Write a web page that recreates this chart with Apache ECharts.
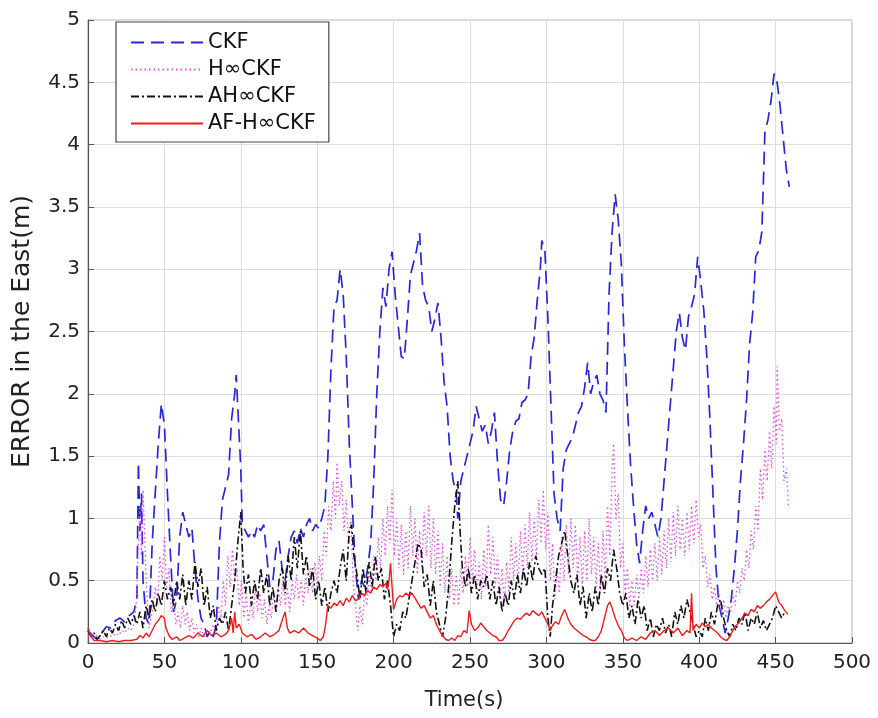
<!DOCTYPE html>
<html>
<head>
<meta charset="utf-8">
<script src="https://cdn.jsdelivr.net/npm/echarts@6/dist/echarts.min.js"></script>
<style>html,body{margin:0;padding:0;background:#fff;}#c{width:878px;height:718px;}</style>
</head>
<body>
<div id="c"></div>
<script>
// ---- data ----
const seriesNames = ['CKF', 'H\u221ECKF', 'AH\u221ECKF', 'AF-H\u221ECKF'];
const xTicks = [0, 50, 100, 150, 200, 250, 300, 350, 400, 450, 500];
const yTicks = [0, 0.5, 1, 1.5, 2, 2.5, 3, 3.5, 4, 4.5, 5];

const ckf = [[0,0.1],[3,0.06],[6,0.03],[9,0.08],[12,0.13],[15,0.12],[18,0.18],[21,0.2],[24,0.17],[27,0.22],[30,0.25],[32,0.35],[33,1.45],[34,0.9],[35,1.2],[36,0.5],[38,0.2],[40,0.15],[42,0.8],[44,1.2],[46,1.6],[48,1.92],[50,1.75],[52,1.2],[54,0.7],[56,0.25],[58,0.35],[60,0.85],[62,1.05],[64,0.95],[66,0.85],[68,0.92],[70,0.6],[72,0.35],[74,0.2],[76,0.15],[78,0.05],[80,0.1],[82,0.05],[84,0.15],[86,0.8],[88,1.15],[90,1.25],[92,1.35],[94,1.8],[96,2.0],[97,2.15],[98,1.9],[100,1.4],[101,0.95],[103,0.9],[105,0.85],[107,0.9],[109,0.85],[111,0.95],[113,0.9],[115,0.95],[117,0.7],[119,0.45],[121,0.5],[123,0.75],[125,0.82],[127,0.6],[129,0.5],[131,0.7],[133,0.85],[135,0.9],[137,0.8],[139,0.92],[141,0.85],[143,0.95],[145,1.0],[147,0.9],[149,0.95],[151,0.92],[153,1.0],[155,1.1],[157,1.5],[159,2.2],[161,2.7],[163,2.75],[165,3.0],[167,2.8],[169,2.3],[171,1.6],[173,1.1],[175,0.6],[177,0.35],[179,0.5],[181,0.45],[183,0.6],[185,0.8],[187,1.3],[189,2.0],[191,2.5],[193,2.85],[195,2.7],[197,3.0],[199,3.14],[201,2.8],[203,2.55],[205,2.3],[207,2.28],[209,2.6],[211,2.95],[213,3.05],[215,3.15],[217,3.29],[219,2.86],[221,2.75],[223,2.7],[225,2.5],[227,2.6],[229,2.73],[231,2.46],[233,2.1],[235,1.9],[237,1.5],[239,1.3],[241,1.2],[242,1.0],[244,1.3],[246,1.4],[248,1.5],[250,1.6],[252,1.7],[254,1.9],[256,1.8],[258,1.7],[260,1.75],[262,1.6],[264,1.7],[266,1.85],[268,1.45],[270,1.15],[272,1.1],[274,1.3],[276,1.55],[278,1.7],[280,1.78],[282,1.8],[284,1.93],[286,1.95],[288,2.0],[290,2.3],[292,2.45],[294,2.75],[296,3.0],[297,3.23],[299,3.15],[301,2.6],[303,1.9],[305,1.2],[307,1.0],[309,0.9],[311,1.4],[313,1.55],[315,1.6],[317,1.65],[319,1.75],[321,1.85],[323,1.9],[325,2.05],[327,2.25],[329,2.0],[331,2.1],[333,2.15],[335,2.0],[337,1.95],[339,1.85],[341,2.8],[343,3.3],[345,3.6],[347,3.4],[349,3.05],[351,2.4],[353,1.9],[355,1.45],[357,1.1],[359,0.8],[361,0.64],[363,0.9],[365,1.1],[367,1.0],[369,1.05],[371,0.95],[373,0.85],[375,1.0],[377,1.3],[379,1.6],[381,1.9],[383,2.2],[385,2.5],[387,2.65],[389,2.45],[391,2.35],[393,2.62],[395,2.7],[397,2.8],[399,3.1],[401,2.9],[403,2.67],[405,2.3],[407,1.8],[409,1.2],[411,0.6],[413,0.3],[415,0.2],[417,0.08],[419,0.2],[421,0.35],[423,0.6],[425,0.9],[427,1.3],[429,1.6],[431,1.95],[433,2.4],[435,2.65],[437,3.1],[439,3.15],[441,3.3],[443,4.1],[445,4.2],[447,4.35],[449,4.57],[451,4.5],[453,4.3],[455,4.05],[457,3.8],[459,3.66]];

const hinf = [[0,0.05],[2,0.08],[4,0.04],[6,0.06],[8,0.03],[10,0.05],[12,0.04],[14,0.06],[16,0.05],[18,0.08],[20,0.06],[22,0.1],[24,0.08],[26,0.12],[28,0.1],[30,0.15],[31.5,0.3],[33,0.8],[34,1.1],[35,0.7],[36,1.23],[37,0.9],[38,0.5],[39,0.3],[40,0.12],[42,0.25],[44,0.45],[45.5,0.3],[47,0.7],[48.5,0.5],[50,0.85],[51.5,0.45],[53,0.6],[54.5,0.25],[56,0.35],[57.5,0.15],[59,0.25],[60.5,0.12],[62,0.3],[63.5,0.15],[65,0.25],[66.5,0.1],[68,0.2],[69.5,0.08],[71,0.15],[72.5,0.05],[74,0.12],[76,0.05],[78,0.1],[80,0.08],[82,0.15],[84,0.1],[85.5,0.3],[87,0.2],[88.5,0.5],[90,0.3],[91.5,0.7],[93,0.45],[94.5,0.75],[96,0.5],[97.5,0.6],[99,0.3],[100.5,0.5],[102,0.2],[103.5,0.4],[105,0.15],[106.5,0.35],[108,0.2],[109.5,0.45],[111,0.25],[112.5,0.4],[114,0.2],[115.5,0.35],[117,0.15],[118.5,0.3],[120,0.2],[121.5,0.4],[123,0.25],[124.5,0.45],[126,0.3],[127.5,0.5],[129,0.3],[130.5,0.45],[132,0.25],[133.5,0.5],[135,0.35],[136.5,0.55],[138,0.35],[139.5,0.5],[141,0.3],[142.5,0.55],[144,0.4],[145.5,0.6],[147,0.4],[148.5,0.65],[150,0.45],[151.5,0.7],[153,0.5],[154.5,0.9],[156,0.7],[157.5,1.1],[159,0.9],[160.5,1.3],[162,1.0],[163,1.45],[164.5,1.1],[166,1.3],[167.5,0.9],[169,1.15],[170.5,0.8],[172,1.0],[173.5,0.5],[175,0.3],[176.5,0.1],[178,0.3],[179.5,0.15],[181,0.4],[182.5,0.3],[184,0.55],[185.5,0.4],[187,0.7],[188.5,0.5],[190,0.85],[191.5,0.6],[193,1.0],[194.5,0.7],[196,1.1],[197.5,0.8],[199,1.23],[200.5,0.7],[202,1.0],[203.5,0.6],[205,0.95],[206.5,0.55],[208,0.9],[209.5,0.6],[211,1.1],[212.5,0.7],[214,1.0],[215.5,0.55],[217,0.9],[218.5,0.6],[220,1.05],[221.5,0.7],[223,1.1],[224.5,0.6],[226,1.0],[227.5,0.55],[229,0.9],[230.5,0.45],[232,0.8],[233.5,0.4],[235,0.7],[236.5,0.35],[238,0.6],[239.5,0.3],[241,0.55],[242.5,0.3],[244,0.6],[245.5,0.4],[247,0.7],[248.5,0.45],[250,0.85],[251.5,0.5],[253,0.75],[254.5,0.4],[256,0.65],[257.5,0.35],[259,0.75],[260.5,0.45],[262,0.95],[263.5,0.55],[265,0.85],[266.5,0.45],[268,0.7],[269.5,0.35],[271,0.6],[272.5,0.3],[274,0.65],[275.5,0.4],[277,0.85],[278.5,0.5],[280,0.8],[281.5,0.45],[283,0.9],[284.5,0.55],[286,0.95],[287.5,0.6],[289,1.05],[290.5,0.65],[292,1.0],[293.5,0.7],[295,1.15],[296.5,0.8],[298,1.23],[299.5,0.75],[301,1.05],[302.5,0.5],[304,0.8],[305.5,0.35],[307,0.6],[308.5,0.4],[310,0.85],[311.5,0.5],[313,0.95],[314.5,0.55],[316,1.0],[317.5,0.6],[319,0.95],[320.5,0.5],[322,0.85],[323.5,0.45],[325,0.9],[326.5,0.5],[328,1.0],[329.5,0.55],[331,0.85],[332.5,0.45],[334,0.8],[335.5,0.4],[337,0.9],[338.5,0.5],[340,1.1],[341.5,0.7],[343,1.4],[344,1.6],[345.5,1.0],[347,1.2],[348.5,0.6],[350,0.8],[351.5,0.4],[353,0.6],[354.5,0.3],[356,0.5],[357.5,0.3],[359,0.55],[360.5,0.35],[362,0.6],[363.5,0.4],[365,0.7],[366.5,0.45],[368,0.75],[369.5,0.5],[371,0.8],[372.5,0.5],[374,0.85],[375.5,0.55],[377,0.9],[378.5,0.6],[380,1.0],[381.5,0.65],[383,1.05],[384.5,0.7],[386,1.1],[387.5,0.75],[389,1.0],[390.5,0.7],[392,1.05],[393.5,0.75],[395,1.1],[396.5,0.8],[398,1.15],[399.5,0.85],[401,0.95],[402.5,0.6],[404,0.7],[405.5,0.45],[407,0.55],[408.5,0.35],[410,0.45],[411.5,0.3],[413,0.4],[414.5,0.25],[416,0.35],[417.5,0.2],[419,0.3],[420.5,0.25],[422,0.4],[423.5,0.3],[425,0.5],[426.5,0.4],[428,0.6],[429.5,0.5],[431,0.75],[432.5,0.6],[434,0.9],[435.5,0.75],[437,1.1],[438.5,0.9],[440,1.4],[441.5,1.15],[443,1.55],[444.5,1.3],[446,1.7],[447.5,1.4],[449,1.9],[450.5,1.6],[451,2.22],[452.5,1.7],[454,1.8],[455.5,1.3],[457,1.4],[458.5,1.08]];

const ahinf = [[0,0.1],[2,0.05],[4,0.08],[6,0.03],[8,0.06],[10,0.1],[12,0.05],[14,0.12],[16,0.08],[18,0.15],[20,0.1],[22,0.18],[24,0.12],[26,0.2],[28,0.15],[30,0.22],[32,0.15],[34,0.25],[36,0.12],[38,0.3],[40,0.2],[42,0.35],[44,0.25],[46,0.4],[48,0.3],[50,0.5],[52,0.35],[54,0.45],[56,0.3],[58,0.5],[60,0.35],[62,0.55],[64,0.3],[66,0.5],[68,0.35],[70,0.65],[72,0.45],[74,0.6],[76,0.3],[78,0.45],[80,0.2],[82,0.3],[84,0.1],[86,0.2],[88,0.15],[90,0.25],[92,0.1],[94,0.3],[96,0.5],[98,0.8],[100,1.05],[101.5,0.6],[103,0.4],[105,0.55],[107,0.3],[109,0.5],[111,0.35],[113,0.6],[115,0.4],[117,0.55],[119,0.3],[121,0.45],[123,0.25],[125,0.5],[127,0.6],[129,0.4],[131,0.7],[133,0.5],[135,0.85],[137,0.6],[139,0.9],[141,0.55],[143,0.7],[145,0.45],[147,0.6],[149,0.35],[151,0.5],[153,0.3],[155,0.45],[157,0.25],[159,0.4],[161,0.5],[163,0.4],[165,0.6],[167,0.75],[169,0.5],[171,0.9],[172.5,0.95],[174,0.7],[176,0.55],[178,0.35],[180,0.6],[182,0.4],[184,0.65],[186,0.45],[188,0.7],[190,0.5],[192,0.6],[194,0.35],[196,0.5],[198,0.3],[200,0.05],[202,0.15],[204,0.1],[206,0.25],[208,0.2],[210,0.35],[212,0.5],[214,0.65],[216,0.8],[218,0.75],[220,0.45],[222,0.55],[224,0.3],[226,0.5],[228,0.25],[230,0.15],[232,0.05],[234,0.2],[236,0.45],[238,0.8],[240,1.1],[242,1.3],[243.5,0.9],[245,0.6],[247,0.45],[249,0.6],[251,0.4],[253,0.55],[255,0.35],[257,0.5],[259,0.45],[261,0.55],[263,0.35],[265,0.5],[267,0.3],[269,0.45],[271,0.25],[273,0.4],[275,0.3],[277,0.5],[279,0.35],[281,0.55],[283,0.4],[285,0.6],[287,0.45],[289,0.65],[291,0.5],[293,0.7],[295,0.6],[297,0.55],[299,0.6],[301,0.2],[302.5,0.05],[304,0.3],[306,0.5],[308,0.7],[310,0.8],[312,0.9],[314,0.7],[316,0.5],[318,0.4],[320,0.55],[322,0.3],[324,0.45],[326,0.2],[328,0.4],[330,0.25],[332,0.45],[334,0.3],[336,0.55],[338,0.4],[340,0.6],[342,0.5],[344,0.75],[346,0.6],[348,0.4],[350,0.3],[352,0.4],[354,0.2],[356,0.3],[358,0.15],[360,0.35],[362,0.2],[364,0.3],[366,0.1],[368,0.2],[370,0.05],[372,0.15],[374,0.1],[376,0.2],[378,0.08],[380,0.15],[382,0.05],[384,0.25],[386,0.15],[388,0.3],[390,0.2],[392,0.35],[394,0.25],[396,0.15],[398,0.05],[400,0.1],[402,0.05],[404,0.2],[406,0.1],[408,0.25],[410,0.15],[412,0.3],[414,0.35],[416,0.2],[418,0.1],[420,0.05],[422,0.15],[424,0.1],[426,0.2],[428,0.15],[430,0.25],[432,0.1],[434,0.2],[436,0.15],[438,0.25],[440,0.12],[442,0.18],[444,0.1],[446,0.15],[448,0.2],[450,0.3],[452,0.25],[454,0.2],[456,0.25]];

const afhinf = [[0,0.12],[1,0.08],[2,0.05],[4,0.02],[8,0.02],[12,0.01],[16,0.02],[20,0.01],[24,0.02],[28,0.02],[32,0.03],[34,0.06],[36,0.04],[38,0.08],[40,0.05],[42,0.1],[44,0.15],[46,0.18],[48,0.22],[50,0.2],[51,0.12],[53,0.06],[55,0.03],[58,0.05],[60,0.02],[63,0.04],[66,0.06],[69,0.04],[72,0.08],[75,0.05],[78,0.1],[81,0.06],[84,0.08],[87,0.05],[90,0.07],[92,0.1],[94,0.2],[95,0.08],[96,0.25],[97,0.12],[99,0.15],[101,0.08],[104,0.05],[107,0.07],[110,0.03],[113,0.05],[116,0.08],[119,0.05],[122,0.07],[125,0.1],[127,0.18],[129,0.25],[130.5,0.12],[132,0.08],[135,0.1],[138,0.08],[141,0.12],[144,0.08],[147,0.06],[150,0.04],[152,0.02],[154,0.05],[155.5,0.15],[157,0.3],[159,0.28],[161,0.32],[163,0.3],[165,0.34],[167,0.3],[169,0.36],[171,0.33],[173,0.38],[175,0.34],[177,0.35],[179,0.4],[181,0.38],[183,0.42],[185,0.4],[187,0.45],[189,0.43],[191,0.47],[193,0.45],[195,0.48],[196,0.43],[197,0.5],[198,0.64],[199,0.45],[200,0.27],[202,0.35],[204,0.38],[206,0.37],[208,0.4],[210,0.38],[212,0.4],[214,0.36],[216,0.32],[218,0.28],[220,0.3],[222,0.25],[224,0.2],[226,0.22],[228,0.15],[230,0.1],[232,0.06],[234,0.03],[236,0.02],[238,0.04],[240,0.02],[242,0.06],[244,0.05],[246,0.1],[248,0.08],[249.5,0.26],[251,0.15],[253,0.1],[255,0.12],[257,0.16],[259,0.13],[261,0.1],[263,0.08],[265,0.06],[267,0.05],[269,0.02],[271,0.02],[273,0.05],[275,0.1],[277,0.14],[279,0.18],[281,0.2],[283,0.19],[285,0.22],[287,0.24],[289,0.22],[291,0.26],[293,0.24],[295,0.22],[297,0.25],[299,0.2],[301,0.15],[302.5,0.1],[304,0.14],[306,0.17],[308,0.15],[310,0.22],[312,0.27],[314,0.2],[316,0.15],[318,0.12],[320,0.1],[322,0.08],[324,0.06],[326,0.05],[328,0.03],[330,0.02],[332,0.02],[334,0.05],[336,0.1],[338,0.2],[340,0.3],[341.5,0.33],[343,0.28],[345,0.2],[347,0.14],[349,0.1],[351,0.04],[353,0.02],[356,0.04],[359,0.02],[362,0.05],[365,0.03],[368,0.08],[371,0.1],[374,0.06],[377,0.1],[380,0.12],[383,0.08],[386,0.12],[389,0.06],[392,0.1],[394,0.08],[395,0.4],[396,0.1],[398,0.15],[400,0.12],[402,0.16],[404,0.13],[406,0.15],[408,0.12],[410,0.1],[412,0.08],[414,0.05],[416,0.03],[418,0.02],[420,0.05],[422,0.1],[424,0.14],[426,0.16],[428,0.2],[430,0.24],[432,0.22],[434,0.27],[436,0.25],[438,0.3],[440,0.28],[442,0.3],[444,0.33],[446,0.35],[448,0.38],[450,0.41],[452,0.33],[454,0.3],[456,0.26],[458,0.23]];

// ---- chart ----
const FONT = 'DejaVu Sans, Liberation Sans, sans-serif';
const chart = echarts.init(document.getElementById('c'), null, {renderer: 'canvas'});
const mk = (name, data, color, type, width) => ({
  name, type: 'line', data, showSymbol: false, symbol: 'none', animation: false,
  lineStyle: {color, type, width}, itemStyle: {color}
});
chart.setOption({
  animation: false,
  backgroundColor: '#fff',
  grid: {left: 88, right: 26, top: 20, bottom: 75, show: true, borderColor: '#b0b0b0', borderWidth: 1},
  legend: {
    orient: 'vertical', left: 116, top: 22, padding: [10, 13, 8, 14],
    itemWidth: 72, itemHeight: 14, itemGap: 6,
    backgroundColor: '#fff', borderColor: '#444', borderWidth: 1.2,
    itemStyle: {opacity: 0, color: 'transparent', borderWidth: 0},
    textStyle: {fontFamily: FONT, fontSize: 21, color: '#111'},
    data: seriesNames
  },
  xAxis: {
    type: 'value', min: xTicks[0], max: xTicks[xTicks.length - 1], interval: 50,
    name: 'Time(s)', nameLocation: 'middle', nameGap: 47,
    nameTextStyle: {fontFamily: FONT, fontSize: 21, color: '#222', padding: [0, 12, 0, 0]},
    axisLine: {show: true, lineStyle: {color: '#555', width: 1.2}},
    axisTick: {show: true, inside: true, length: 6, lineStyle: {color: '#555'}},
    axisLabel: {fontFamily: FONT, fontSize: 20, color: '#222', margin: 10},
    splitLine: {show: true, lineStyle: {color: '#dcdcdc', width: 1}}
  },
  yAxis: {
    type: 'value', min: yTicks[0], max: yTicks[yTicks.length - 1], interval: 0.5,
    name: 'ERROR in the East(m)', nameLocation: 'middle', nameGap: 53,
    nameTextStyle: {fontFamily: FONT, fontSize: 25, color: '#222'},
    axisLine: {show: true, lineStyle: {color: '#555', width: 1.2}},
    axisTick: {show: true, inside: true, length: 6, lineStyle: {color: '#555'}},
    axisLabel: {fontFamily: FONT, fontSize: 20, color: '#222', margin: 8},
    splitLine: {show: true, lineStyle: {color: '#dcdcdc', width: 1}}
  },
  series: [
    mk(seriesNames[0], ckf, '#2828d8', [13, 7], 1.7),
    mk(seriesNames[1], hinf, '#e050e0', [1.5, 3], 1.3),
    mk(seriesNames[2], ahinf, '#111111', [8, 3, 2, 3], 1.6),
    mk(seriesNames[3], afhinf, '#ee1c1c', 'solid', 1.4)
  ]
});
</script>
</body>
</html>
